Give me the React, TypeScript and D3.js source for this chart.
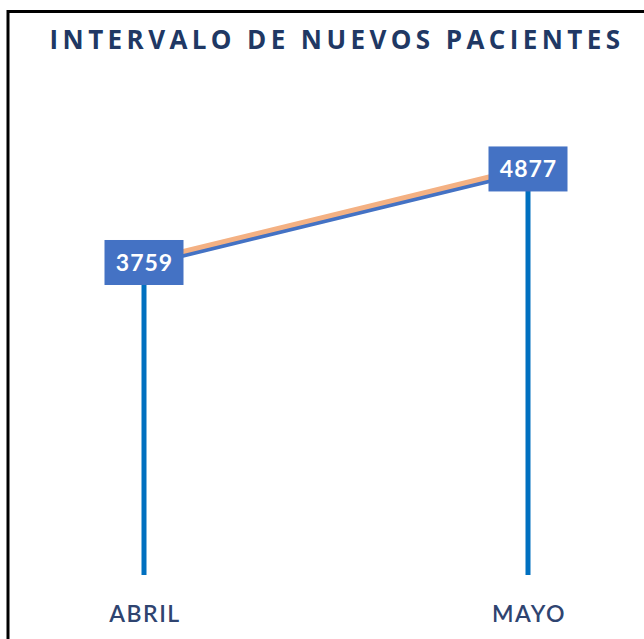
import React from "react";
import * as d3 from "d3";

const categories = ["ABRIL", "MAYO"];
const values = [3759, 4877];
const title = "INTERVALO DE NUEVOS PACIENTES";

const width = 644;
const height = 639;

export default function App() {
  const x = d3.scalePoint().domain(categories).range([144, 528]);
  const y = d3.scaleLinear().domain([0, 6000]).range([577, 75]);

  const points = categories.map((c, i) => ({ cx: x(c) as number, cy: y(values[i]), v: values[i], c }));
  const line = d3
    .line<{ cx: number; cy: number }>()
    .x((d) => d.cx)
    .y((d) => d.cy);

  const boxW = 79;
  const boxH = 45;

  return (
    <svg
      width={width}
      height={height}
      style={{ position: "absolute", left: 0, top: 0, background: "#fff" }}
      fontFamily="Lato, 'Open Sans', sans-serif"
    >
      <rect x={0} y={0} width={width} height={height} fill="#fff" />
      {/* frame */}
      <rect x={8} y={11.5} width={width + 10} height={height + 10} fill="none" stroke="#000" strokeWidth={3} />

      <text
        x={337}
        y={49}
        textAnchor="middle"
        fontFamily="'Open Sans', sans-serif"
        fontSize={26}
        fontWeight={700}
        fill="#203864"
        letterSpacing={4.4}
      >
        {title}
      </text>

      {/* drop lines */}
      {points.map((p) => (
        <line key={p.c} x1={p.cx} x2={p.cx} y1={p.cy} y2={y(0) - 2} stroke="#0070C0" strokeWidth={5} />
      ))}

      {/* connecting line: blue under, orange on top */}
      <path
        d={line(points.map((p) => ({ cx: p.cx, cy: p.cy + 2.5 }))) || ""}
        fill="none"
        stroke="#4472C4"
        strokeWidth={4.5}
      />
      <path
        d={line(points.map((p) => ({ cx: p.cx, cy: p.cy - 1.5 }))) || ""}
        fill="none"
        stroke="#F4B183"
        strokeWidth={5}
      />

      {/* value boxes */}
      {points.map((p) => (
        <g key={p.c + "-box"}>
          <rect x={p.cx - boxW / 2} y={p.cy - boxH / 2} width={boxW} height={boxH} fill="#4472C4" />
          <text
            x={p.cx + 0.5}
            y={p.cy + 8.5}
            textAnchor="middle"
            fontSize={23}
            fontWeight={700}
            fill="#fff"
            letterSpacing={1}
          >
            {p.v}
          </text>
        </g>
      ))}

      {/* category labels */}
      {points.map((p) => (
        <text
          key={p.c + "-lab"}
          x={p.cx + 1}
          y={622}
          textAnchor="middle"
          fontSize={23}
          fontWeight={600}
          fill="#2F4470"
          letterSpacing={1.5}
        >
          {p.c}
        </text>
      ))}
    </svg>
  );
}
